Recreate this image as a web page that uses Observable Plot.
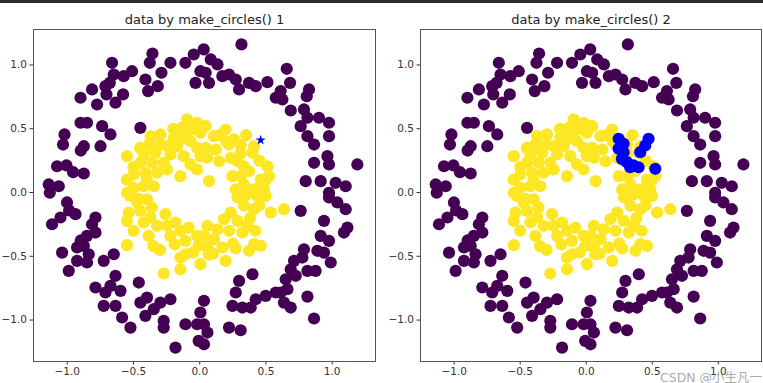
<!DOCTYPE html>
<html><head><meta charset="utf-8">
<script src="https://cdn.jsdelivr.net/npm/d3@7"></script>
<script src="https://cdn.jsdelivr.net/npm/@observablehq/plot@0.6"></script>
<style>
body{margin:0;background:#fff;}
#wrap{position:relative;width:763px;height:383px;overflow:hidden;font-family:"DejaVu Sans",sans-serif;background:#fff;}
#topbar{position:absolute;left:0;top:0;width:763px;height:3px;background:#2b2b2b;}
.panel{position:absolute;top:0;}
#wm{position:absolute;left:660px;top:367px;font-size:12.5px;color:rgba(160,160,160,0.9);font-family:"DejaVu Sans","Noto Sans CJK SC",sans-serif;white-space:nowrap;}
</style>
</head><body>
<div id="wrap"><div id="topbar"></div><div id="p1" class="panel" style="left:0"></div><div id="p2" class="panel" style="left:380px"></div><div id="wm">CSDN @小生凡一</div></div>
<script>
const titles = ["data by make_circles() 1", "data by make_circles() 2"];
const xTicks = [-1.0, -0.5, 0.0, 0.5, 1.0];
const yTicks = [-1.0, -0.5, 0.0, 0.5, 1.0];

// outer circle (class 0)
const outerX = [-0.662,-0.357,-0.377,-0.289,-0.221,-0.410,-0.317,-0.390,-0.511,-0.574,-0.649,-0.679,-0.712,-0.813,-0.900,-0.775,-0.704,-0.636,-0.579,-0.900,-0.851,-0.737,-0.674,-0.749,-0.875,-0.898,-1.021,-1.032,-0.448,-1.077,-1.006,-0.956,-0.875,-1.140,-1.064,-1.132,-0.045,-0.108,0.005,-0.032,0.030,0.315,0.083,0.134,0.045,0.070,0.171,0.221,0.272,0.297,0.372,0.423,0.511,0.657,0.682,0.611,0.574,0.624,0.687,0.825,0.808,0.787,0.813,0.900,0.976,0.762,0.813,0.863,0.976,0.863,0.964,0.976,1.190,0.800,0.913,1.026,1.102,0.976,0.762,0.976,1.039,1.102,0.938,1.115,1.089,0.913,0.976,0.787,0.775,0.888,0.938,0.989,0.712,0.687,0.813,0.875,0.725,0.649,0.662,0.611,0.574,0.498,0.423,0.636,0.687,0.813,0.398,0.297,0.272,0.247,0.322,0.385,0.863,0.221,0.309,0.032,0.032,0.058,0.032,-1.002,-0.938,-1.051,-1.115,-0.787,-0.813,-0.787,-0.851,-0.875,-0.926,-0.838,-1.039,-0.926,-0.851,-0.989,-0.725,-0.649,-0.636,-0.787,-0.712,-0.674,-0.598,-0.725,-0.636,-0.586,-0.523,-0.460,-0.448,-0.398,-0.410,-0.347,-0.297,-0.221,-0.272,-0.272,-0.108,-0.020,-0.008,0.005,-0.183,-0.986,-0.898];
const outerY = [1.017,1.090,1.017,0.939,1.017,0.886,0.834,0.795,0.951,0.912,0.925,0.860,0.834,0.808,0.743,0.690,0.769,0.704,0.769,0.547,0.547,0.520,0.455,0.363,0.363,0.329,0.455,0.376,0.507,0.206,0.212,0.159,0.149,0.063,0.049,-0.002,1.082,1.017,0.951,0.860,1.122,1.161,1.043,1.004,0.939,0.860,0.912,0.925,0.886,0.808,0.860,0.834,0.865,0.970,0.860,0.795,0.743,0.729,0.643,0.808,0.755,0.651,0.586,0.586,0.547,0.520,0.442,0.376,0.442,0.233,0.285,0.220,0.220,0.089,0.089,0.076,0.049,-0.002,-0.144,-0.039,-0.078,-0.131,-0.222,-0.275,-0.314,-0.340,-0.379,-0.445,-0.510,-0.457,-0.471,-0.549,-0.536,-0.602,-0.614,-0.614,-0.653,-0.680,-0.758,-0.784,-0.784,-0.810,-0.837,-0.863,-0.902,-0.816,-0.641,-0.693,-0.784,-0.889,-0.902,-0.902,-0.988,-1.059,-1.080,-0.849,-1.033,-1.098,-1.190,-0.078,-0.170,-0.196,-0.249,-0.196,-0.249,-0.314,-0.340,-0.418,-0.431,-0.484,-0.471,-0.536,-0.549,-0.614,-0.536,-0.484,-0.653,-0.745,-0.784,-0.732,-0.771,-0.889,-0.889,-0.980,-1.059,-0.706,-0.863,-0.824,-0.967,-0.915,-0.863,-0.837,-1.006,-1.059,-1.033,-1.033,-1.163,-0.941,-1.216,-0.141,-0.376];

// inner circle (class 1)
const innerX = [-0.096,-0.020,-0.134,-0.058,0.005,-0.297,-0.372,-0.196,-0.146,-0.070,-0.385,-0.247,-0.171,-0.020,-0.549,-0.423,-0.334,-0.221,-0.121,0.005,-0.448,-0.360,-0.272,-0.070,-0.498,-0.410,-0.322,-0.247,-0.146,-0.020,-0.498,-0.423,-0.347,-0.549,0.045,0.108,0.196,0.259,0.221,0.309,0.410,0.398,0.045,0.121,0.058,0.146,0.234,0.285,0.334,0.372,0.511,0.523,0.460,0.070,0.247,0.309,0.334,0.410,0.272,0.485,-0.523,-0.473,-0.398,-0.536,-0.448,-0.549,-0.423,-0.372,-0.322,-0.259,-0.247,-0.183,-0.146,-0.083,-0.385,-0.221,-0.108,-0.020,-0.549,-0.146,-0.108,-0.146,-0.272,0.005,-0.008,0.285,0.435,0.498,0.334,0.536,0.636,0.410,0.234,0.183,0.285,0.360,0.058,0.134,0.221,0.322,0.032,0.108,0.410,0.372,0.460,0.171,0.196,0.058,0.309,0.355,-0.362,-0.189,0.272,0.068,
  -0.45,-0.30,-0.50,-0.46,-0.50,-0.30,-0.05,0.10,0.25,0.42,0.45,0.50,0.45,0.15,-0.10,-0.40,-0.20,0.00,0.20,0.35,-0.35,-0.55,0.38];
const innerY = [0.573,0.547,0.507,0.494,0.468,0.455,0.442,0.429,0.416,0.402,0.376,0.363,0.363,0.351,0.285,0.298,0.311,0.298,0.285,0.285,0.233,0.233,0.233,0.220,0.141,0.155,0.155,0.180,0.128,0.180,0.037,0.049,0.049,-0.002,0.520,0.442,0.494,0.416,0.376,0.376,0.363,0.311,0.351,0.337,0.272,0.245,0.272,0.245,0.206,0.167,0.206,0.128,0.102,0.089,0.128,0.128,0.063,0.024,0.024,0.024,-0.026,-0.078,-0.053,-0.157,-0.144,-0.222,-0.235,-0.196,-0.261,-0.170,-0.261,-0.235,-0.300,-0.275,-0.340,-0.340,-0.379,-0.340,-0.413,-0.510,-0.484,-0.602,-0.635,-0.562,-0.418,-0.039,-0.026,-0.026,-0.104,-0.157,-0.131,-0.131,-0.157,-0.209,-0.222,-0.261,-0.261,-0.288,-0.300,-0.314,-0.340,-0.366,-0.405,-0.457,-0.418,-0.431,-0.536,-0.431,0.306,-0.016,-0.118,-0.408,-0.439,-0.486,
  0.35,0.38,0.20,-0.05,-0.30,-0.45,-0.47,-0.48,-0.40,-0.30,-0.10,0.10,0.25,0.45,0.47,0.10,0.50,0.52,0.40,0.45,-0.42,0.10,-0.20];

// query point (star) and its neighbours (second panel)
const starX = [0.46];
const starY = [0.41];
const nbrX = [0.245,0.283,0.245,0.283,0.270,0.308,0.358,0.396,0.333,0.472,0.447,0.409,0.523];
const nbrY = [0.421,0.382,0.343,0.316,0.264,0.238,0.212,0.198,0.198,0.421,0.369,0.316,0.186];

const zip = (xs, ys) => xs.map((x, i) => ({x, y: ys[i]}));
const outer = zip(outerX, outerY);
const inner = zip(innerX, innerY);
const star = zip(starX, starY);
const nbrs = zip(nbrX, nbrY);

const PURPLE = "#440154", YELLOW = "#fde725", BLUE = "#0000ff";
const fmt = d => d3.format(".1f")(d);
const R = 6.1;

function panel(title, width, ml, mr, extra) {
  return Plot.plot({
    width, height: 383,
    marginLeft: ml, marginRight: mr, marginTop: 29, marginBottom: 22,
    style: {fontFamily: "DejaVu Sans, sans-serif", fontSize: "10.5px", color: "#333", background: "transparent", overflow: "visible"},
    x: {domain: [-1.255, 1.327], ticks: xTicks, tickFormat: fmt, tickSize: 3.5, tickPadding: 3, label: null},
    y: {domain: [-1.325, 1.278], ticks: yTicks, tickFormat: fmt, tickSize: 3.5, tickPadding: 3, label: null},
    marks: [
      Plot.dot(outer, {x: "x", y: "y", r: R, fill: PURPLE, stroke: null}),
      Plot.dot(inner, {x: "x", y: "y", r: R, fill: YELLOW, stroke: null}),
      ...extra,
      Plot.frame({stroke: "#555", strokeWidth: 1}),
      Plot.text([title], {text: d => d, frameAnchor: "top", dy: -6, lineAnchor: "bottom", fontSize: 13, fill: "#222"})
    ]
  });
}

document.getElementById("p1").append(panel(titles[0], 380, 33, 5, [
  Plot.dot(star, {x: "x", y: "y", symbol: "star", r: 3.2, fill: BLUE, stroke: null})
]));
document.getElementById("p2").append(panel(titles[1], 383, 40, 2, [
  Plot.dot(nbrs, {x: "x", y: "y", r: R, fill: BLUE, stroke: null})
]));
</script>
</body></html>
